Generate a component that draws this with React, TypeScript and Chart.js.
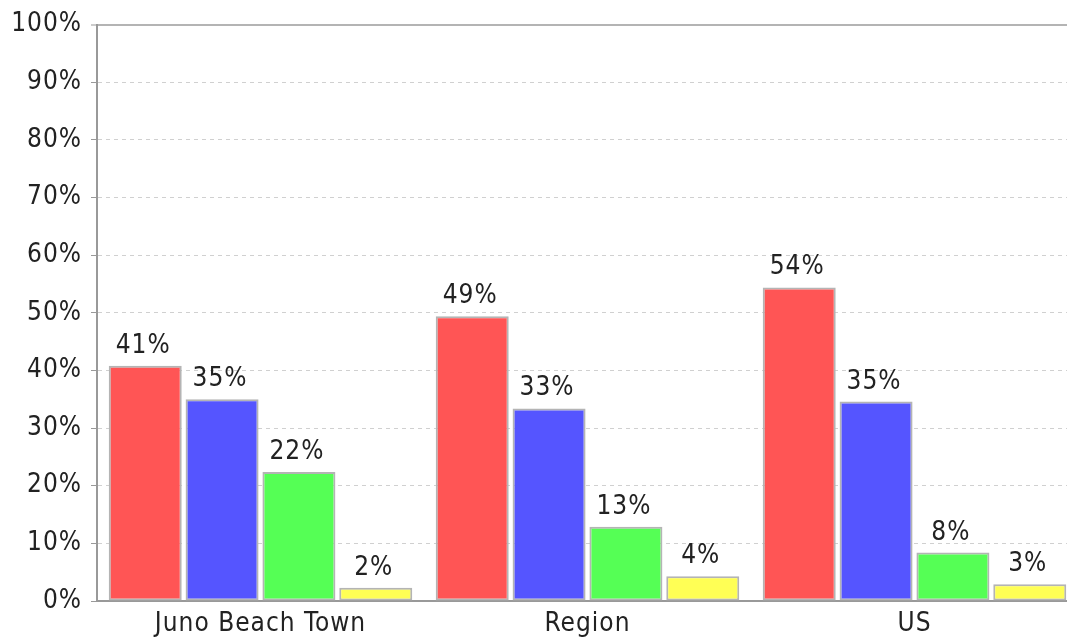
import React, { useEffect, useRef } from "react";
import { Chart, registerables } from "chart.js";

Chart.register(...registerables);

const categories = ["Juno Beach Town", "Region", "US"];
const seriesA = [40.8, 49.4, 54.4];
const seriesB = [35.0, 33.4, 34.6];
const seriesC = [22.4, 12.9, 8.4];
const seriesD = [2.3, 4.3, 2.9];
const seriesColors = ["#ff5555", "#5555ff", "#55ff55", "#ffff55"];
const seriesNames = ["Series 1", "Series 2", "Series 3", "Series 4"];
const yTicks = [0, 10, 20, 30, 40, 50, 60, 70, 80, 90, 100];

const FONT = '"DejaVu Sans Condensed", "DejaVu Sans", sans-serif';
const FSIZE = 26;

const spacingPlugin = {
  id: "letterSpacing",
  beforeDraw(chart: any) {
    try { chart.ctx.letterSpacing = "1px"; } catch (e) {}
  },
};

const labelPlugin = {
  id: "barLabels",
  afterDatasetsDraw(chart: any) {
    const ctx = chart.ctx;
    ctx.save();
    ctx.font = `${FSIZE}px ${FONT}`;
    try { ctx.letterSpacing = "1px"; } catch (e) {}
    ctx.fillStyle = "#222";
    ctx.textAlign = "center";
    ctx.textBaseline = "alphabetic";
    chart.data.datasets.forEach((ds: any, i: number) => {
      const meta = chart.getDatasetMeta(i);
      meta.data.forEach((bar: any, j: number) => {
        const v = ds.data[j];
        ctx.fillText(`${Math.round(v)}%`, bar.x - 2, bar.y - 13);
      });
    });
    ctx.restore();
  },
};

export default function App() {
  const ref = useRef<HTMLCanvasElement>(null);
  useEffect(() => {
    const all = [seriesA, seriesB, seriesC, seriesD];
    const chart = new Chart(ref.current!, {
      type: "bar",
      data: {
        labels: categories,
        datasets: all.map((d, i) => ({
          label: seriesNames[i],
          data: d,
          backgroundColor: seriesColors[i],
          borderColor: "#b4b4b4",
          borderWidth: 2,
          borderSkipped: false,
          categoryPercentage: 0.94,
          barPercentage: 0.95,
        })),
      },
      options: {
        responsive: false,
        animation: false,
        layout: { padding: { top: 19, left: 0, right: 0, bottom: 0 } },
        plugins: { legend: { display: false }, tooltip: { enabled: false } },
        scales: {
          x: {
            grid: { display: false, drawTicks: false },
            border: { display: true, color: "#999", width: 2 },
            ticks: { color: "#222", font: { family: FONT, size: FSIZE }, padding: 8 },
            afterFit: (s: any) => { s.height = 42; },
          },
          y: {
            min: 0,
            max: 100,
            afterBuildTicks: (s: any) => { s.ticks = yTicks.map((v) => ({ value: v })); },
            afterFit: (s: any) => { s.width = 97; },
            ticks: {
              color: "#222",
              font: { family: FONT, size: FSIZE },
              padding: 9,
              callback: (v: any) => `${v}%`,
            },
            grid: {
              color: (c: any) => (c.tick && c.tick.value === 100 ? "#b4b4b4" : "#d0d0d0"),
              lineWidth: (c: any) => (c.tick && c.tick.value === 100 ? 2 : 1),
              tickColor: "#999",
              tickLength: 6,
              tickWidth: 1,
              tickBorderDash: [],
            },
            border: {
              display: true,
              color: "#999",
              width: 2,
              dash: (c: any) => (c.tick && (c.tick.value === 100 || c.tick.value === 0) ? [] : [4, 4]),
            },
          },
        },
      },
      plugins: [spacingPlugin, labelPlugin],
    });
    return () => chart.destroy();
  }, []);
  return (
    <div style={{ position: "fixed", left: 0, top: 0, width: 1067, height: 643, overflow: "hidden", background: "#fff" }}>
      <canvas ref={ref} width={1078} height={643} style={{ display: "block" }} />
    </div>
  );
}
